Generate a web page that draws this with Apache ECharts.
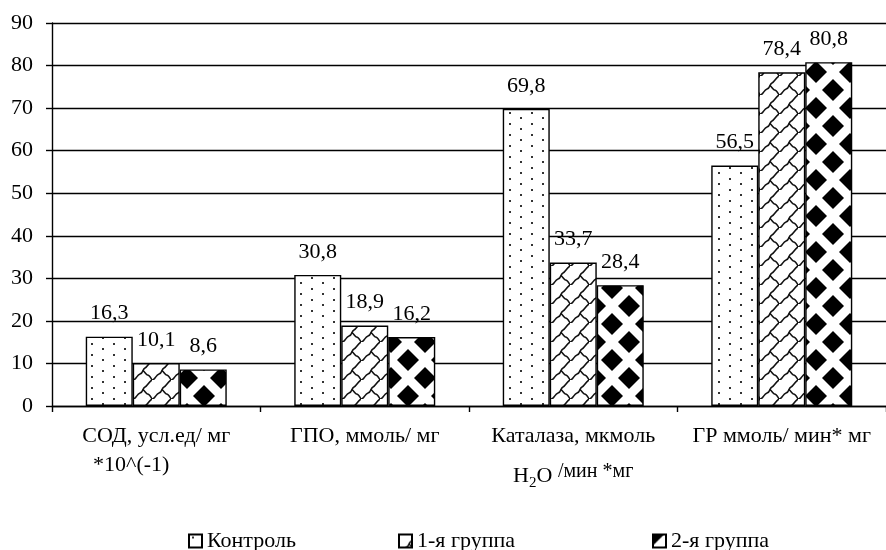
<!DOCTYPE html>
<html>
<head>
<meta charset="utf-8">
<script src="https://cdn.jsdelivr.net/npm/echarts@6/dist/echarts.min.js"></script>
<style>
  html, body { margin: 0; padding: 0; background: #fff; }
  #chart { width: 886px; height: 550px; }
</style>
</head>
<body>
<div id="chart"></div>
<script>
// Enzyme activity by group
const categories = ['СОД', 'ГПО', 'Каталаза', 'ГР'];
const seriesNames = ['Контроль', '1-я группа', '2-я группа'];
const controlValues = [16.3, 30.8, 69.8, 56.5];
const group1Values = [10.1, 18.9, 33.7, 78.4];
const group2Values = [8.6, 16.2, 28.4, 80.8];
const yTicks = { min: 0, max: 90, step: 10 };

const FONT = "'Liberation Serif', 'Times New Roman', serif";
const FS = 22;

// Fill textures drawn on small canvases
function makeTile(w, h, draw) {
  const c = document.createElement('canvas');
  c.width = w; c.height = h;
  const ctx = c.getContext('2d');
  ctx.fillStyle = '#fff';
  ctx.fillRect(0, 0, w, h);
  draw(ctx);
  return { image: c, repeat: 'repeat' };
}

// dotted fill
const dotsFill = makeTile(22, 11, ctx => {
  ctx.fillStyle = '#333';
  ctx.fillRect(3, 2, 2, 2);
  ctx.fillRect(14, 7, 2, 2);
});

// wavy brick fill
const waveFill = makeTile(19, 19, ctx => {
  ctx.strokeStyle = '#111';
  ctx.lineWidth = 1.5;
  ctx.beginPath();
  ctx.moveTo(0, 19);
  ctx.bezierCurveTo(3.5, 19, 3.5, 14, 7, 13);
  ctx.bezierCurveTo(10.5, 12, 9.5, 8, 12, 7);
  ctx.bezierCurveTo(14.5, 6, 15.5, 2, 19, 0);
  ctx.stroke();
  ctx.beginPath();
  ctx.moveTo(9.5, 9.5);
  ctx.bezierCurveTo(12, 10.5, 13, 14, 14.5, 14);
  ctx.bezierCurveTo(16.5, 14, 17.5, 16.5, 19, 19);
  ctx.stroke();
});

// diamond fill
const diamondFill = makeTile(34, 36, ctx => {
  ctx.fillStyle = '#000';
  const pts = [[0, 0], [34, 0], [0, 36], [34, 36], [17, 18]];
  const r = 11;
  pts.forEach(([x, y]) => {
    ctx.beginPath();
    ctx.moveTo(x, y - r);
    ctx.lineTo(x + r, y);
    ctx.lineTo(x, y + r);
    ctx.lineTo(x - r, y);
    ctx.closePath();
    ctx.fill();
  });
});

const fills = [dotsFill, waveFill, diamondFill];
const valueSets = [controlValues, group1Values, group2Values];

const chart = echarts.init(document.getElementById('chart'), null, { renderer: 'canvas' });

const series = seriesNames.map((name, i) => ({
  name,
  type: 'bar',
  data: valueSets[i],
  barWidth: 47,
  barGap: '0%',
  itemStyle: { color: fills[i], borderColor: '#000', borderWidth: 1.4 },
  label: {
    show: true,
    position: 'top',
    distance: 12,
    color: '#000',
    fontFamily: FONT,
    fontSize: FS,
    formatter: p => String(p.value).replace('.', ',')
  }
}));

const legendBase = {
  orient: 'horizontal',
  top: 525,
  itemWidth: 13,
  itemHeight: 13,
  itemGap: 8,
  icon: 'rect',
  textStyle: { fontFamily: FONT, fontSize: FS, color: '#000' }
};

const catLabel = {
  'СОД': '{t|СОД, усл.ед/ мг}\n{s|*10^(-1)}',
  'ГПО': '{t|ГПО, ммоль/ мг}',
  'Каталаза': '{t|Каталаза, мкмоль}\n{h|H}{sub|2}{h|O }{sup|/мин *мг}',
  'ГР': '{t|ГР ммоль/ мин* мг}'
};

chart.setOption({
  animation: false,
  backgroundColor: '#fff',
  grid: { left: 52, right: -11, top: 23, bottom: 144, containLabel: false },
  legend: [
    Object.assign({}, legendBase, { left: 183, data: [seriesNames[0]] }),
    Object.assign({}, legendBase, { left: 393, data: [seriesNames[1]] }),
    Object.assign({}, legendBase, { left: 647, data: [seriesNames[2]] })
  ],
  xAxis: {
    type: 'category',
    data: categories,
    axisLine: { lineStyle: { color: '#000', width: 1.4 } },
    axisTick: { show: true, interval: 0, length: 6, lineStyle: { color: '#000', width: 1.4 } },
    axisLabel: {
      interval: 0,
      margin: 16,
      color: '#000',
      fontFamily: FONT,
      fontSize: FS,
      formatter: v => catLabel[v],
      rich: {
        t: { fontFamily: FONT, fontSize: FS, lineHeight: 28, color: '#000' },
        s: { fontFamily: FONT, fontSize: FS, lineHeight: 30, color: '#000', padding: [0, 50, 0, 0] },
        h: { fontFamily: FONT, fontSize: FS, lineHeight: 52, color: '#000' },
        sub: { fontFamily: FONT, fontSize: 15, lineHeight: 52, color: '#000', padding: [14, 0, 0, 0] },
        sup: { fontFamily: FONT, fontSize: 20, lineHeight: 52, color: '#000', padding: [0, 0, 8, 0] }
      }
    }
  },
  yAxis: {
    type: 'value',
    min: yTicks.min,
    max: yTicks.max,
    interval: yTicks.step,
    axisLine: { show: true, lineStyle: { color: '#000', width: 1.4 } },
    axisTick: { show: true, length: 6, lineStyle: { color: '#000', width: 1.4 } },
    axisLabel: { margin: 19, color: '#000', fontFamily: FONT, fontSize: FS },
    splitLine: { show: true, lineStyle: { color: '#000', width: 1.4 } }
  },
  series
});
</script>
</body>
</html>
